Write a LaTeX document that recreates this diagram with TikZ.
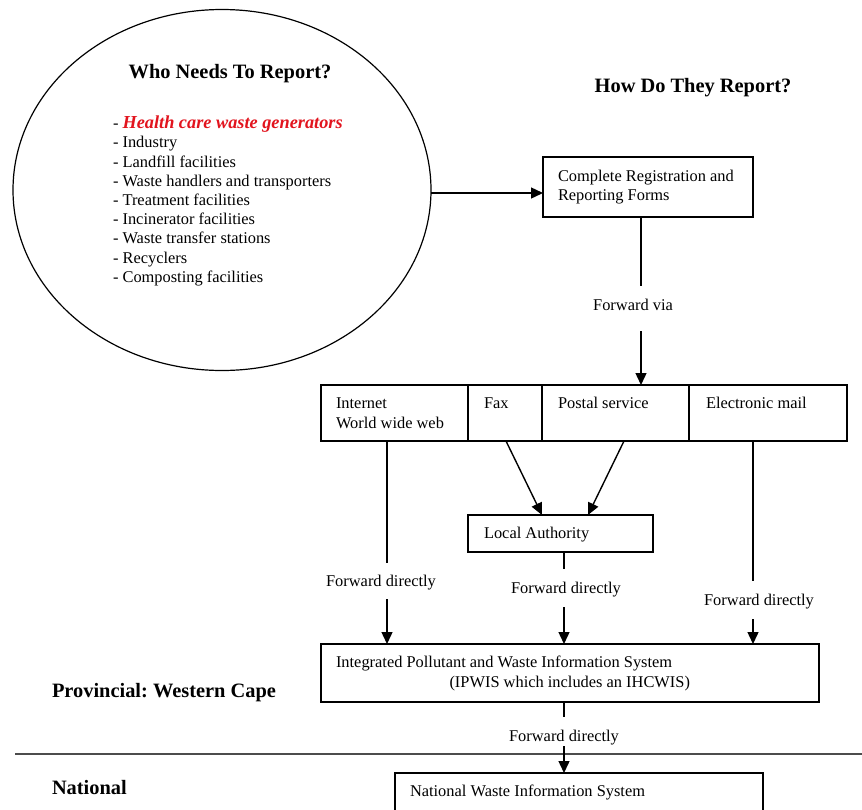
\documentclass[tikz,border=0pt]{standalone}
\usepackage{fontspec}
\setmainfont{Liberation Serif}
\usetikzlibrary{arrows.meta,shapes.geometric}
\definecolor{hcred}{RGB}{226,20,30}
\frenchspacing
\begin{document}
\begin{tikzpicture}[x=1pt,y=-1pt,
  every node/.style={inner sep=0pt, outer sep=0pt},
  box/.style={draw, line width=1.4pt, anchor=north west},
  txt/.style={font=\fontsize{16.4}{19.2}\selectfont, anchor=base west},
  ctxt/.style={font=\fontsize{16.4}{19.2}\selectfont, anchor=base},
  head/.style={font=\fontsize{20.4}{24}\selectfont\bfseries, anchor=base},
  level/.style={font=\fontsize{20.4}{24}\selectfont\bfseries, anchor=base west},
  link/.style={line width=1.4pt},
  flow/.style={line width=1.4pt, -{Triangle[length=12pt,width=11pt]}}
]
\useasboundingbox (0,0) rectangle (862,809);
\clip (0,0) rectangle (862,809);
\fill[white] (0,0) rectangle (862,809);

% who reports
\node[draw, ellipse, line width=1.2pt, minimum width=418pt, minimum height=361pt] (who) at (222,190) {};
\node[head] (whohead) at (230,78) {Who Needs To Report?};
\node[txt, align=left, anchor=north west] (list) at (113,116) {%
- {\color{hcred}\fontsize{18.3}{19.2}\selectfont\bfseries\itshape Health care waste generators}\\
- Industry\\
- Landfill facilities\\
- Waste handlers and transporters\\
- Treatment facilities\\
- Incinerator facilities\\
- Waste transfer stations\\
- Recyclers\\
- Composting facilities};

% how they report
\node[head] (howhead) at (693,92) {How Do They Report?};
\node[box, minimum width=210pt, minimum height=60pt] (forms) at (543,157) {};
\node[txt] (formst1) at (558,181) {Complete Registration and};
\node[txt] (formst2) at (558,200) {Reporting Forms};
\draw[flow] (who.east |- 0,193) coordinate (whoout) -- (forms.west |- whoout);

% forwarding channels
\node[ctxt] (fvia) at (633,310) {Forward via};
\coordinate (fviaA) at (641,286);
\coordinate (fviaB) at (641,331);
\draw[link] (forms.south -| fviaA) -- (fviaA);

\node[box, minimum width=147pt, minimum height=56pt] (web) at (321,385) {};
\node[box, minimum width=74pt, minimum height=56pt] (fax) at (468,385) {};
\node[box, minimum width=147pt, minimum height=56pt] (post) at (542,385) {};
\node[box, minimum width=158pt, minimum height=56pt] (mail) at (689,385) {};
\node[txt] (webt1) at (336,408) {Internet};
\node[txt] (webt2) at (336,428) {World wide web};
\node[txt] (faxt) at (484,408) {Fax};
\node[txt] (postt) at (558,408) {Postal service};
\node[txt] (mailt) at (706,408) {Electronic mail};
\draw[flow] (fviaB) -- (fviaB |- post.north);

% local authority
\node[box, minimum width=185pt, minimum height=37pt] (local) at (468,515) {};
\node[txt] (localt) at (484,538) {Local Authority};
\coordinate (faxout) at (506,441);
\coordinate (postout) at (624,441);
\draw[flow] (faxout) -- (542,515);
\draw[flow] (postout) -- (588,515);

% provincial system
\node[box, minimum width=498pt, minimum height=58pt] (ipwis) at (321,644) {};
\node[txt] (ipwist1) at (336,667) {Integrated Pollutant and Waste Information System};
\node[txt, anchor=base east] (ipwist2) at (690,687) {(IPWIS which includes an IHCWIS)};

\coordinate (webA) at (387,563);
\coordinate (webB) at (387,599);
\node[ctxt] (webfwd) at (381,586) {Forward directly};
\draw[link] (web.south -| webA) -- (webA);
\draw[flow] (webB) -- (webB |- ipwis.north);

\coordinate (locA) at (564,569);
\coordinate (locB) at (564,607);
\node[ctxt] (locfwd) at (566,593) {Forward directly};
\draw[link] (local.south -| locA) -- (locA);
\draw[flow] (locB) -- (locB |- ipwis.north);

\coordinate (mailA) at (753,581);
\coordinate (mailB) at (753,619);
\node[ctxt] (mailfwd) at (759,605) {Forward directly};
\draw[link] (mail.south -| mailA) -- (mailA);
\draw[flow] (mailB) -- (mailB |- ipwis.north);

% national level
\draw[line width=1.2pt, gray!60!black] (15,754) -- (862,754);
\node[level] (prov) at (52,697) {Provincial: Western Cape};
\node[level] (natl) at (52,794) {National};

\node[box, minimum width=368pt, minimum height=60pt] (nwis) at (395,773) {};
\node[txt] (nwist) at (410,796) {National Waste Information System};

\coordinate (ipA) at (564,717);
\coordinate (ipB) at (564,746);
\node[ctxt] (ipfwd) at (564,741) {Forward directly};
\draw[link] (ipwis.south -| ipA) -- (ipA);
\draw[flow] (ipB) -- (ipB |- nwis.north);
\end{tikzpicture}
\end{document}
